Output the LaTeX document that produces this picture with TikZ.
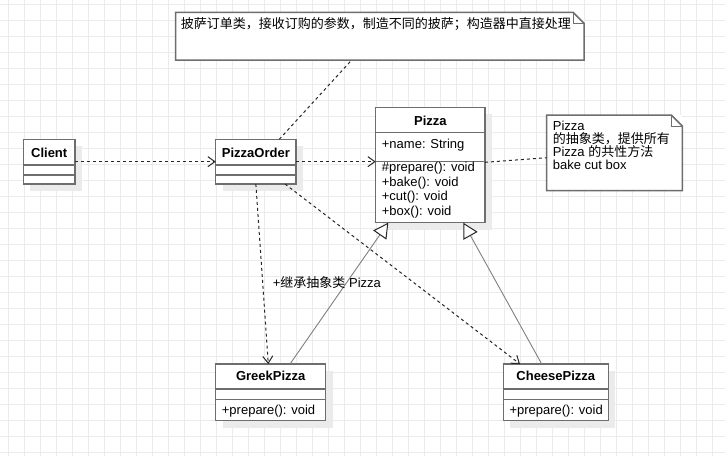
\documentclass[tikz,border=0pt]{standalone}
\usepackage{fontspec}
\setmainfont{Liberation Sans}
\newfontfamily\cjk{Noto Sans CJK SC}
\usetikzlibrary{arrows.meta,calc,shadows}
\definecolor{gridc}{HTML}{EBEBEB}
\definecolor{boxc}{HTML}{6E6E6E}
\definecolor{shadowc}{HTML}{EBEBEB}
\definecolor{inhc}{HTML}{808080}
\begin{document}
\begin{tikzpicture}[x=1pt,y=-1pt,
  font=\fontsize{13}{15.6}\selectfont,
  classbox/.style={draw=boxc, line width=1.5pt, fill=white, anchor=north west,
    inner sep=0pt, outer sep=0pt,
    general shadow={fill=shadowc, shadow xshift=7pt, shadow yshift=-7pt}},
  divider/.style={draw=boxc, line width=1.5pt},
  notebox/.style={fill=white, anchor=north west, inner sep=0pt, outer sep=0pt},
  noteline/.style={draw=boxc, line width=1.5pt, line join=miter},
  foldline/.style={draw=boxc, line width=1pt},
  ltext/.style={inner sep=0pt, anchor=base west},
  ctext/.style={inner sep=0pt, anchor=base, font=\fontsize{13}{15.6}\selectfont\bfseries},
  dep/.style={draw=black!85, line width=1pt, dash pattern=on 3pt off 3pt,
    -{Straight Barb[length=7pt,width=10pt,line width=1pt]}},
  inh/.style={draw=inhc, line width=0.9pt,
    -{Triangle[open,length=15pt,width=16pt,fill=white,color=black!85,line width=1pt]}},
  anchorline/.style={draw=black!85, line width=1pt, dash pattern=on 3pt off 3pt}]
\useasboundingbox (0,0) rectangle (725,456);
\fill[white] (0,0) rectangle (725,456);
\foreach \i in {0,...,44} \draw[gridc, line width=1pt] (8+16*\i,0) -- (8+16*\i,456);
\foreach \j in {0,...,28} \draw[gridc, line width=1pt] (0,4+16*\j) -- (725,4+16*\j);

% notes
\node[notebox, minimum width=408.3pt, minimum height=47.7pt] (tnote) at (175.7,12.3) {};
\draw[noteline] (tnote.north west) -- ([xshift=-11pt]tnote.north east) -- ([yshift=-11pt]tnote.north east) -- (tnote.south east) -- (tnote.south west) -- cycle;
\draw[foldline] ([xshift=-11pt]tnote.north east) -- ([xshift=-11pt,yshift=-11pt]tnote.north east) -- ([yshift=-11pt]tnote.north east);
\node[ltext] (tnotetext) at (180.7,28) {\cjk 披萨订单类，接收订购的参数，制造不同的披萨；构造器中直接处理};

\node[notebox, minimum width=135.6pt, minimum height=75.7pt] (pnote) at (546.7,115) {};
\draw[noteline] (pnote.north west) -- ([xshift=-11pt]pnote.north east) -- ([yshift=-11pt]pnote.north east) -- (pnote.south east) -- (pnote.south west) -- cycle;
\draw[foldline] ([xshift=-11pt]pnote.north east) -- ([xshift=-11pt,yshift=-11pt]pnote.north east) -- ([yshift=-11pt]pnote.north east);
\node[ltext] (pn1) at (552.7,130) {Pizza};
\node[ltext] (pn2) at (552.7,143.3) {\cjk 的抽象类，提供所有};
\node[ltext] (pn3) at (552.7,156.6) {Pizza {\cjk 的共性方法}};
\node[ltext] (pn4) at (552.7,169.9) {bake cut box};

% classes
\node[classbox, minimum width=51.7pt, minimum height=44.7pt] (client) at (23.3,139.3) {};
\draw[divider] ($(client.north west)+(0,25.7)$) -- ($(client.north east)+(0,25.7)$);
\draw[divider] ($(client.north west)+(0,35.7)$) -- ($(client.north east)+(0,35.7)$);
\node[ctext] (clientname) at (49.2,157.3) {Client};

\node[classbox, minimum width=80.3pt, minimum height=44.7pt] (po) at (215.7,139.3) {};
\draw[divider] ($(po.north west)+(0,25.7)$) -- ($(po.north east)+(0,25.7)$);
\draw[divider] ($(po.north west)+(0,35.7)$) -- ($(po.north east)+(0,35.7)$);
\node[ctext] (poname) at (255.85,157.3) {PizzaOrder};

\node[classbox, minimum width=109.3pt, minimum height=115.4pt] (pizza) at (375.7,107.3) {};
\draw[divider] ($(pizza.north west)+(0,25)$) -- ($(pizza.north east)+(0,25)$);
\draw[divider] ($(pizza.north west)+(0,54.4)$) -- ($(pizza.north east)+(0,54.4)$);
\node[ctext] (pizzaname) at (430.35,125) {Pizza};
\node[ltext] (pa1) at (381.7,148.3) {+name: String};
\node[ltext] (po1) at (381.7,171.3) {\#prepare(): void};
\node[ltext] (po2) at (381.7,186) {+bake(): void};
\node[ltext] (po3) at (381.7,200.7) {+cut(): void};
\node[ltext] (po4) at (381.7,215.3) {+box(): void};

\node[classbox, minimum width=110pt, minimum height=56.7pt] (greek) at (215.7,364) {};
\draw[divider] ($(greek.north west)+(0,25)$) -- ($(greek.north east)+(0,25)$);
\draw[divider] ($(greek.north west)+(0,35.3)$) -- ($(greek.north east)+(0,35.3)$);
\node[ctext] (greekname) at (270.7,380.7) {GreekPizza};
\node[ltext] (greekop) at (221.7,414) {+prepare(): void};

\node[classbox, minimum width=105pt, minimum height=56.7pt] (cheese) at (503.3,364) {};
\draw[divider] ($(cheese.north west)+(0,25)$) -- ($(cheese.north east)+(0,25)$);
\draw[divider] ($(cheese.north west)+(0,35.3)$) -- ($(cheese.north east)+(0,35.3)$);
\node[ctext] (cheesename) at (555.8,380.7) {CheesePizza};
\node[ltext] (cheeseop) at (509.3,414) {+prepare(): void};

% connectors
\draw[dep] (client.east) -- (po.west);
\draw[dep] (po.east) -- (pizza.west |- po.east);
\draw[dep] (po.south) -- ($(greek.north west)+(52.6,0)$);
\draw[dep] ($(po.south west)+(69.3,0)$) -- ($(cheese.north west)+(16.7,0)$);
\draw[anchorline] ($(po.north west)+(63.6,0)$) -- ($(tnote.south west)+(176,0)$);
\draw[anchorline] ($(pizza.north east)+(0,55)$) -- ($(pnote.north west)+(0,42.7)$);
\draw[inh] ($(greek.north west)+(74.3,0)$) -- ($(pizza.south west)+(12.6,0)$);
\draw[inh] ($(cheese.north west)+(38.4,0)$) -- ($(pizza.south west)+(87.6,0)$);

\node[ltext] (inhlabel) at (272.7,287.7) {+{\cjk 继承抽象类} Pizza};
\end{tikzpicture}
\end{document}
